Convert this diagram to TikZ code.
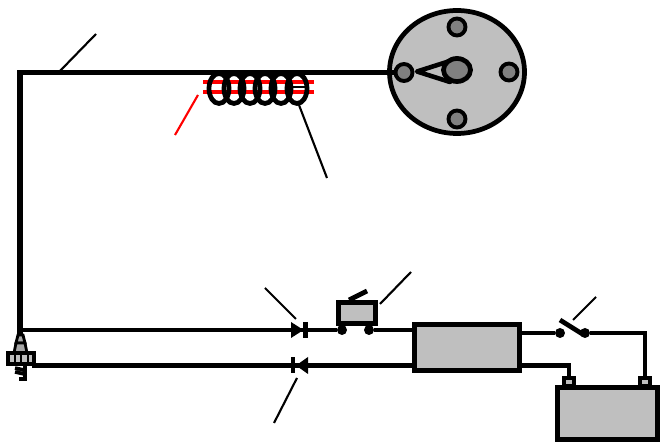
\documentclass[tikz,border=0pt]{standalone}
\usepackage{tikz}
\usetikzlibrary{shapes.geometric}

\tikzset{
  wire/.style={line width=2.7pt},
  bigwire/.style={line width=3.4pt},
  pointer/.style={line width=1.2pt},
  part/.style={draw, line width=2.7pt, fill=black!25, inner sep=0pt},
  contact/.style={circle, fill=black, inner sep=0pt, minimum size=0.2cm},
  post/.style={circle, draw, line width=2.2pt, fill=black!50, inner sep=0pt, minimum size=0.34cm}
}

\begin{document}
\begin{tikzpicture}[x=0.02cm, y=-0.02cm]
  \useasboundingbox (0,0) rectangle (664,448);

  % Verteiler
  \node[part, ellipse, minimum width=2.7cm, minimum height=2.46cm] (disc) at (457,72) {};
  \node[post] (postW) at (404,72.5) {};
  \node[post] (postE) at (509,72) {};
  \node[post] (postN) at (457,27) {};
  \node[post] (postS) at (457,119) {};
  \draw[line width=2.6pt, fill=black!25, line join=round] (417,71.5) -- (450,61) -- (450,82) -- cycle;
  \node[part, ellipse, fill=black!50, minimum width=0.54cm, minimum height=0.46cm] (rotor) at (457,70) {};

  % Spule
  \coordinate (corner) at (20,72.5);
  \coordinate (coilW) at (208,72.5);
  \coordinate (coilE) at (306,72.5);
  \draw[red, line width=2.8pt] (203,82) -- (314,82);
  \draw[red, line width=2.8pt] (203,92) -- (314,92);
  \draw[line width=1.6pt] (292,87) -- (308,87);
  \foreach \x in {219,234,250,265,281,297}
    \draw[line width=2.7pt] (\x,88.5) ellipse [x radius=10, y radius=15];

  \coordinate (plugTop) at (20,335);
  \coordinate (plugMid) at (32,365.5);
  \draw[bigwire] (plugTop) -- (corner) -- (coilE) -- (postW);

  % Kerze
  \draw[line width=1.6pt, fill=black!35] (18,335) -- (23,335) -- (25,343) -- (16,343) -- cycle;
  \draw[line width=1.6pt, fill=black!35] (16,343) -- (25,343) -- (27,353) -- (14,353) -- cycle;
  \draw[line width=2.2pt, fill=black!25] (8,353) rectangle (34,364);
  \draw[line width=1.6pt] (21,353) -- (21,364);
  \draw[line width=1.6pt] (15,353) -- (15,364);
  \draw[line width=1.6pt] (28,353) -- (28,364);
  \draw[line width=2pt] (15,368) -- (24,370) (15,372) -- (24,374);
  \draw[line width=2pt] (25,365) -- (25,379) -- (19,379);

  % Unten
  \node[part, minimum width=2.1cm, minimum height=0.92cm, anchor=north west] (coilbox) at (412,322) {};
  \node[part, minimum width=0.74cm, minimum height=0.42cm, anchor=north west] (cond) at (336,300) {};
  \node[part, minimum width=2cm, minimum height=1.04cm, anchor=north west] (battery) at (555,385) {};
  \node[contact] (contA) at (342,330) {};
  \node[contact] (contB) at (369,330) {};
  \node[contact] (swA) at (560,333) {};
  \node[contact] (swB) at (585,333) {};
  \coordinate (plugLow) at (20,330);
  \coordinate (diodeA) at (305.5,330);
  \coordinate (diodeB) at (293,365.5);
  \coordinate (boxA) at (412,330);
  \coordinate (boxB) at (412,365.5);
  \coordinate (boxC) at (521,333);
  \coordinate (boxD) at (521,365.5);
  \coordinate (termA) at (569,385);
  \coordinate (termB) at (645,385);

  \draw[wire] (plugLow) -- (diodeA);
  \draw[wire] (diodeA) -- (contA);
  \draw[wire] (contB) -- (boxA);
  \draw[wire] (plugMid) -- (boxB);
  \draw[wire] (boxC) -- (swA);
  \draw[wire] (swB) -- (645,333) -- (termB);
  \draw[wire] (boxD) -- (569,365.5) -- (termA);

  \draw[line width=2.2pt, fill=black!25] (564,378) rectangle (574,386);
  \draw[line width=2.2pt, fill=black!25] (640,378) rectangle (650,386);
  \draw[wire] (569,370) -- (569,380);
  \draw[wire] (645,370) -- (645,380);

  % Dioden
  \fill (291,322) -- (303.5,330) -- (291,338) -- cycle;
  \draw[line width=2.6pt] (diodeA) ++(0,-8) -- ++(0,16);
  \fill (308,357) -- (296,365.5) -- (308,374) -- cycle;
  \draw[line width=2.6pt] (diodeB) ++(0,-8) -- ++(0,16);

  % Hebel
  \draw[wire] (349,300) -- (367,291);
  \draw[wire] (560,320) -- (584,335);

  % Hinweise
  \draw[pointer] (59,72) -- (96,34);
  \draw[pointer, red] (198,95) -- (175,135);
  \draw[pointer] (299,105) -- (327,178);
  \draw[pointer] (265,288) -- (296,319);
  \draw[pointer] (380,304) -- (411,272);
  \draw[pointer] (297,378) -- (274,423);
  \draw[pointer] (573,320) -- (596,297);
\end{tikzpicture}
\end{document}
